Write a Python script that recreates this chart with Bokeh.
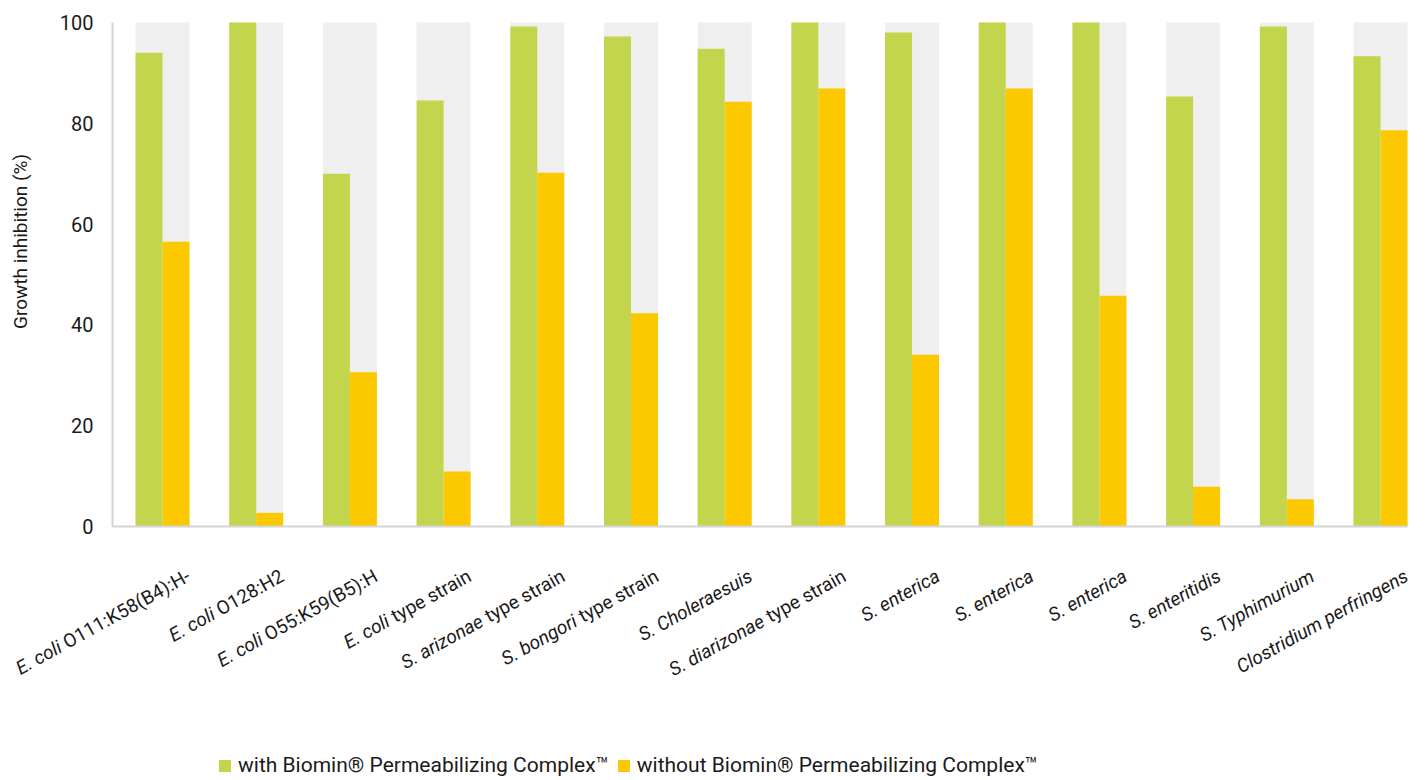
import os
import glob
import math
import struct

from bokeh.plotting import figure
from bokeh.models import ColumnDataSource, Range1d, Legend, LegendItem
from bokeh.core.properties import value
from bokeh.embed import file_html
from bokeh.resources import INLINE

# ---------------- data ----------------
italic_part = ["E. coli", "E. coli", "E. coli", "E. coli", "S. arizonae", "S. bongori",
               "S. Choleraesuis", "S. diarizonae", "S. enterica", "S. enterica",
               "S. enterica", "S. enteritidis", "S. Typhimurium", "Clostridium perfringens"]
regular_part = ["O111:K58(B4):H-", "O128:H2", "O55:K59(B5):H", "type strain",
                "type strain", "type strain", "", "type strain", "", "", "", "", "", ""]
with_pc = [94.0, 100.0, 70.0, 84.5, 99.2, 97.2, 94.8, 100.0, 98.0, 100.0, 100.0, 85.3, 99.2, 93.3]
without_pc = [56.5, 2.7, 30.6, 10.9, 70.2, 42.3, 84.3, 86.9, 34.1, 86.9, 45.8, 7.9, 5.4, 78.6]
y_ticks = [0, 20, 40, 60, 80, 100]
series_names = ["with Biomin\u00ae Permeabilizing Complex\u2122",
                "without Biomin\u00ae Permeabilizing Complex\u2122"]
y_title = "Growth inhibition (%)"

GREEN = "#c2d54d"
YELLOW = "#fcc800"
GREY = "#efefef"
TEXT = "#1a1a1a"
AXIS = "#d4d4d4"
FONT = "Roboto"
LABEL_SIZE = 19

# ---------------- text width measurement ----------------
FALLBACK = {" ": 507, "(": 699, ")": 712, "-": 553, ":": 485, "B": 1275, "H": 1426,
            "K": 1282, "O": 1386, "a": 1114, "e": 1082, "i": 497, "n": 1130, "p": 1149,
            "r": 692, "s": 1058, "t": 669, "y": 970}
for d in "0123456789":
    FALLBACK[d] = 1150


def fallback_width(txt, size):
    return sum(FALLBACK.get(ch, 1100) for ch in txt) * size / 2048.0


def find_font():
    cands = []
    for d in ["/usr/share/fonts", "/usr/local/share/fonts",
              os.path.expanduser("~/.fonts"), os.path.expanduser("~/.local/share/fonts")]:
        cands += glob.glob(os.path.join(d, "**", "Roboto*.ttf"), recursive=True)
    for cnd in cands:
        if os.path.basename(cnd) == "Roboto-Regular.ttf":
            return cnd
    bad = ("Italic", "Condensed", "Mono", "Slab", "Flex", "Serif", "Bold", "Light", "Thin",
           "Medium", "Black")
    for cnd in cands:
        b = os.path.basename(cnd)
        if not any(x in b for x in bad):
            return cnd
    return None


def make_measurer(path):
    data = open(path, "rb").read()
    num = struct.unpack(">H", data[4:6])[0]
    tables = {}
    for i in range(num):
        tag, cs, off, ln = struct.unpack(">4sIII", data[12 + 16 * i:28 + 16 * i])
        tables[tag.decode("latin1")] = off
    head = tables["head"]
    upem = struct.unpack(">H", data[head + 18:head + 20])[0]
    hhea = tables["hhea"]
    nhm = struct.unpack(">H", data[hhea + 34:hhea + 36])[0]
    hmtx = tables["hmtx"]
    adv = [struct.unpack(">H", data[hmtx + 4 * i:hmtx + 4 * i + 2])[0] for i in range(nhm)]
    cmap = tables["cmap"]
    ncm = struct.unpack(">H", data[cmap + 2:cmap + 4])[0]
    sub = None
    for i in range(ncm):
        pid, eid, off = struct.unpack(">HHI", data[cmap + 4 + 8 * i:cmap + 12 + 8 * i])
        s0 = cmap + off
        fmt = struct.unpack(">H", data[s0:s0 + 2])[0]
        if fmt == 4:
            sub = s0
            break
    if sub is None:
        raise ValueError("no fmt4")
    segx2 = struct.unpack(">H", data[sub + 6:sub + 8])[0]
    segs = segx2 // 2
    ends = struct.unpack(">%dH" % segs, data[sub + 14:sub + 14 + segx2])
    starts = struct.unpack(">%dH" % segs, data[sub + 16 + segx2:sub + 16 + 2 * segx2])
    deltas = struct.unpack(">%dh" % segs, data[sub + 16 + 2 * segx2:sub + 16 + 3 * segx2])
    rpos = sub + 16 + 3 * segx2
    roffs = struct.unpack(">%dH" % segs, data[rpos:rpos + segx2])

    def gid(cp):
        for k in range(segs):
            if ends[k] >= cp:
                if starts[k] > cp:
                    return 0
                if roffs[k] == 0:
                    return (cp + deltas[k]) & 0xFFFF
                addr = rpos + 2 * k + roffs[k] + 2 * (cp - starts[k])
                g = struct.unpack(">H", data[addr:addr + 2])[0]
                return (g + deltas[k]) & 0xFFFF if g else 0
        return 0

    def width(txt, size):
        tot = 0
        for ch in txt:
            g = gid(ord(ch))
            tot += adv[min(g, nhm - 1)]
        return tot * size / float(upem)

    return width


measure = fallback_width
try:
    fp = find_font()
    if fp:
        mm = make_measurer(fp)
        if mm("type", 20) > 5:
            measure = mm
except Exception:
    measure = fallback_width

# ---------------- geometry (pixels of the 1428x780 canvas) ----------------
W, H = 1428, 780
LEFT, RIGHT = 112, 21          # plot area horizontal edges
AX_PX, TOP_PX = 526, 22        # pixel rows of y=0 and y=100
X0, X1 = -0.534, 13.288        # category units spanning the plot area
ux = (W - LEFT - RIGHT) / (X1 - X0)      # px per category unit
uy = (AX_PX - TOP_PX) / 100.0            # px per percent

n = len(italic_part)
idx = list(range(n))
BAR = 0.288

p = figure(width=W, height=H, output_backend="svg", toolbar_location=None,
           x_range=Range1d(X0 - LEFT / ux, X1 + RIGHT / ux),
           y_range=Range1d((AX_PX - H) / uy, AX_PX / uy),
           x_axis_location=None, y_axis_location=None,
           min_border_left=0, min_border_right=0, min_border_top=0, min_border_bottom=0)
p.outline_line_color = None
p.xgrid.visible = False
p.ygrid.visible = False
p.background_fill_color = "white"
p.border_fill_color = "white"

src = ColumnDataSource(dict(
    x=idx,
    xg=[i - BAR / 2 for i in idx],
    xy=[i + BAR / 2 for i in idx],
    full=[100] * n,
    w=with_pc,
    wo=without_pc,
))

p.vbar(x="x", top="full", width=2 * BAR, source=src, fill_color=GREY, line_color=None)
r_with = p.vbar(x="xg", top="w", width=BAR, source=src, fill_color=GREEN, line_color=None)
r_without = p.vbar(x="xy", top="wo", width=BAR, source=src, fill_color=YELLOW, line_color=None)

# axis lines
p.segment(x0=[X0, X0], y0=[0, 0], x1=[X0, X1], y1=[100, 0], line_color=AXIS, line_width=2)

# y tick labels (placed through the y scale)
tick_src = ColumnDataSource(dict(x=[X0 - 19 / ux] * len(y_ticks), y=y_ticks,
                                 t=[str(t) for t in y_ticks]))
p.text(x="x", y="y", text="t", source=tick_src, text_align="right", text_baseline="middle",
       text_font=value(FONT), text_font_size="20px", text_color=TEXT)

# y title
p.text(x=[X0 - 92 / ux], y=[(AX_PX - 241) / uy], text=[y_title], angle=math.pi / 2,
       text_align="center", text_baseline="middle", text_font=value(FONT),
       text_font_size="19px", text_color=TEXT)

# category labels: italic organism + regular remainder, rotated
th = math.radians(29)
cth, sth = math.cos(th), math.sin(th)
EX, EY = 26.0, -48.0          # px offset of the baseline end from the category centre / axis
GAP = 0.0
wreg = [(measure(" " + t, LABEL_SIZE) + GAP) if t else 0.0 for t in regular_part]
lab_src = ColumnDataSource(dict(
    it=italic_part,
    rg=regular_part,
    it_x=[i + (EX - w * cth) / ux for i, w in zip(idx, wreg)],
    it_y=[(EY - w * sth) / uy for w in wreg],
    rg_x=[i + EX / ux for i in idx],
    rg_y=[EY / uy] * n,
))
p.text(x="it_x", y="it_y", text="it", source=lab_src, angle=th,
       text_align="right", text_baseline="alphabetic",
       text_font=value(FONT), text_font_style="italic",
       text_font_size=f"{LABEL_SIZE}px", text_color=TEXT)
p.text(x="rg_x", y="rg_y", text="rg", source=lab_src, angle=th,
       text_align="right", text_baseline="alphabetic",
       text_font=value(FONT), text_font_style="normal",
       text_font_size=f"{LABEL_SIZE}px", text_color=TEXT)

legend = Legend(items=[LegendItem(label=series_names[0], renderers=[r_with]),
                       LegendItem(label=series_names[1], renderers=[r_without])],
                orientation="horizontal", location=(217, 3), padding=0, margin=0,
                spacing=7, glyph_width=15, glyph_height=15, label_standoff=6,
                label_text_font=FONT, label_text_font_size="21px", label_text_color=TEXT,
                label_height=15, border_line_color=None, background_fill_alpha=0)
p.add_layout(legend)

open("out.html", "w").write(file_html(p, INLINE))
